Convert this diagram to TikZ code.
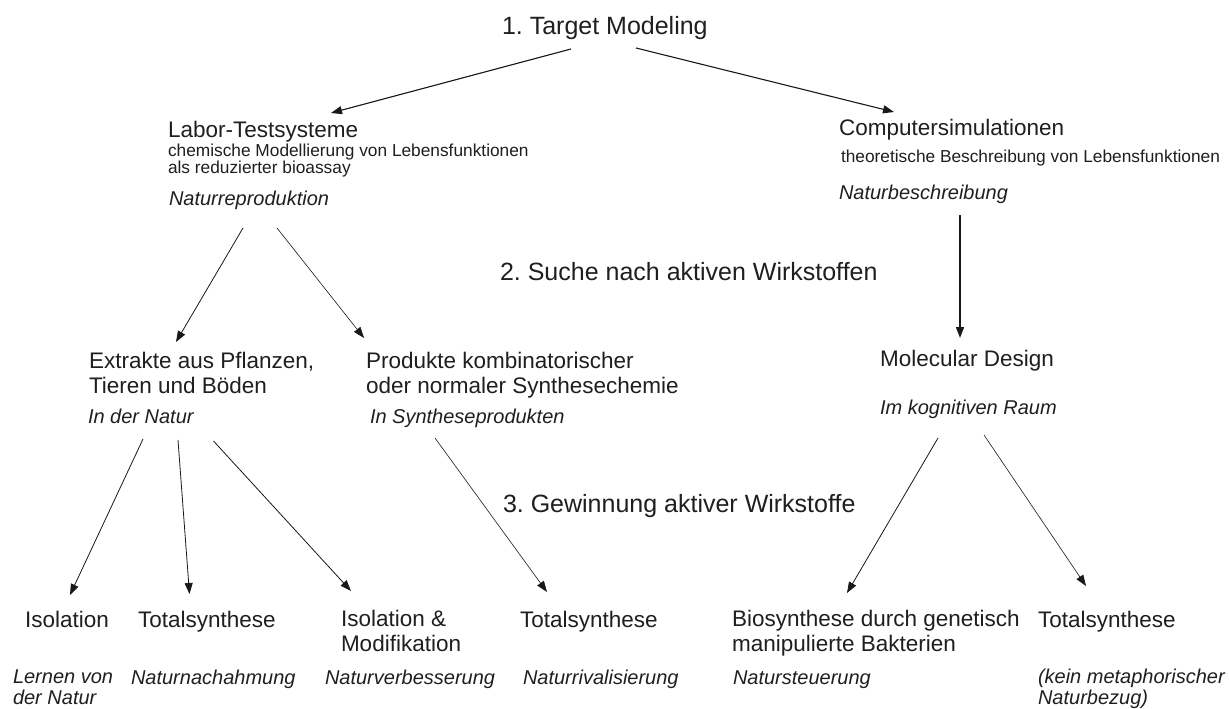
\documentclass[tikz,border=0pt]{standalone}
\usepackage{fontspec}
\setmainfont{Liberation Sans}
\usetikzlibrary{arrows.meta}
\begin{document}
\frenchspacing
\begin{tikzpicture}[x=1pt,y=-1pt,
  txt/.style={anchor=base west, inner sep=0pt, outer sep=0pt, text=black!88, align=left},
  stepl/.style={txt, font=\fontsize{25}{28}\selectfont},
  head/.style={txt, font=\fontsize{22.5}{24.7}\selectfont},
  sub/.style={txt, font=\fontsize{17.3}{17}\selectfont},
  itl/.style={txt, font=\fontsize{20}{20.5}\selectfont\itshape},
  arr/.style={-{Triangle[length=11pt,width=8pt]}, line width=0.8pt, black!90},
  thickarr/.style={arr, line width=1.6pt},
]
\fill[white] (0,0) rectangle (1229,709);
\useasboundingbox (0,0) rectangle (1229,709);

% step labels
\node[stepl] (title) at (502,35) {1. Target Modeling};
\node[stepl] (step2) at (500,280) {2. Suche nach aktiven Wirkstoffen};
\node[stepl] (step3) at (503,512) {3. Gewinnung aktiver Wirkstoffe};

% level 1 (multi-line nodes are anchored at the baseline of their last line)
\node[head] (labor) at (168,137.5) {Labor-Testsysteme};
\node[sub] (laborsub) at (168,173) {chemische Modellierung von Lebensfunktionen\\als reduzierter bioassay};
\node[itl] (laborit) at (169,205) {Naturreproduktion};

\node[head] (comp) at (839,135) {Computersimulationen};
\node[sub] (compsub) at (841,162) {theoretische Beschreibung von Lebensfunktionen};
\node[itl] (compit) at (839,199) {Naturbeschreibung};

% level 2
\node[head] (extr) at (89,393) {Extrakte aus Pflanzen,\\Tieren und Böden};
\node[itl] (extrit) at (88,423) {In der Natur};
\node[head] (prod) at (366,393) {Produkte kombinatorischer\\oder normaler Synthesechemie};
\node[itl] (prodit) at (370,423) {In Syntheseprodukten};
\node[head] (md) at (880,366) {Molecular Design};
\node[itl] (mdit) at (880,414) {Im kognitiven Raum};

% level 3
\node[head] (b1) at (25,627) {Isolation};
\node[head] (b2) at (138,627) {Totalsynthese};
\node[head] (b3) at (341,651.5) {Isolation \&\\Modifikation};
\node[head] (b4) at (520,627) {Totalsynthese};
\node[head] (b5) at (732,651.5) {Biosynthese durch genetisch\\manipulierte Bakterien};
\node[head] (b6) at (1038,627) {Totalsynthese};

\node[itl] (i1) at (13,704) {Lernen von\\der Natur};
\node[itl] (i2) at (131,684) {Naturnachahmung};
\node[itl] (i3) at (325,684) {Naturverbesserung};
\node[itl] (i4) at (523,684) {Naturrivalisierung};
\node[itl] (i5) at (733,684) {Natursteuerung};
\node[itl] (i6) at (1038,704) {(kein metaphorischer\\Naturbezug)};

% connector end points
\coordinate (tl) at (571,49);   \coordinate (tlE) at (331,113);
\coordinate (tr) at (636,48);   \coordinate (trE) at (894,112);
\coordinate (ll) at (243,228);  \coordinate (llE) at (176,342);
\coordinate (lr) at (277,228);  \coordinate (lrE) at (364,338);
\coordinate (cv) at (960,215);  \coordinate (cvE) at (960,338);
\coordinate (e1) at (143,439);  \coordinate (e1E) at (70,595);
\coordinate (e2) at (178,440);  \coordinate (e2E) at (189.5,594);
\coordinate (e3) at (213.5,441);\coordinate (e3E) at (351,591);
\coordinate (p1) at (435,438);  \coordinate (p1E) at (547,592);
\coordinate (m1) at (938,438);  \coordinate (m1E) at (847,593);
\coordinate (m2) at (984,435);  \coordinate (m2E) at (1086,586);

\draw[arr, line width=1.1pt] (tl) -- (tlE);
\draw[arr, line width=1.1pt] (tr) -- (trE);
\draw[arr] (ll) -- (llE);
\draw[arr, line width=0.6pt] (lr) -- (lrE);
\draw[thickarr] (cv) -- (cvE);
\draw[arr] (e1) -- (e1E);
\draw[arr] (e2) -- (e2E);
\draw[arr] (e3) -- (e3E);
\draw[arr, line width=0.6pt] (p1) -- (p1E);
\draw[arr] (m1) -- (m1E);
\draw[arr, line width=0.6pt] (m2) -- (m2E);
\end{tikzpicture}
\end{document}
